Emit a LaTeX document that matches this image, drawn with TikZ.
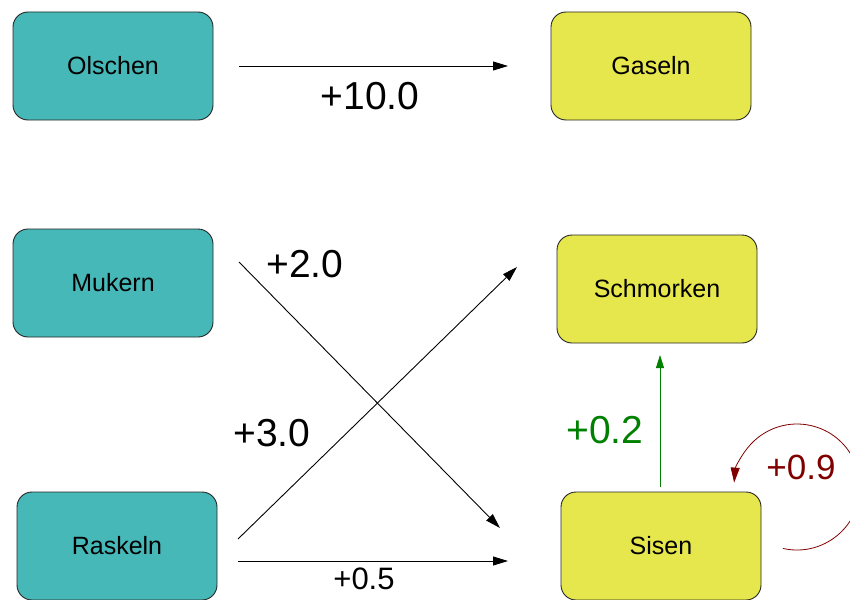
\documentclass[tikz,border=0pt]{standalone}
\usepackage{fontspec}
\setmainfont{Liberation Sans}
\usetikzlibrary{arrows.meta}
\definecolor{tealbox}{HTML}{47B8B8}
\definecolor{yellowbox}{HTML}{E6E64D}
\definecolor{dgreen}{HTML}{008000}
\definecolor{dred}{HTML}{800000}
\begin{document}
\begin{tikzpicture}[x=1pt,y=-1pt,
  box/.style={draw=black!85,line width=0.9pt,rounded corners=15pt,minimum width=200pt,minimum height=108pt,font=\fontsize{25}{29}\selectfont,inner sep=0pt},
  tbox/.style={box,fill=tealbox},
  ybox/.style={box,fill=yellowbox},
  conn/.style={line width=0.9pt,-{Triangle[length=15pt,width=9pt]}},
  biglab/.style={font=\fontsize{39}{44}\selectfont,inner sep=0pt}]
\useasboundingbox (0,0) rectangle (850,599);
\node[tbox] (ols) at (113,66) {Olschen};
\node[ybox] (gas) at (651,66) {Gaseln};
\node[tbox] (muk) at (113,283) {Mukern};
\node[ybox] (sch) at (657,289) {Schmorken};
\node[tbox] (ras) at (117,546) {Raskeln};
\node[ybox] (sis) at (661,546) {Sisen};
% endpoints
\coordinate (olsOut) at (239,66);
\coordinate (gasIn) at (508,66);
\coordinate (mukOut) at (239,262);
\coordinate (sisInA) at (500,528);
\coordinate (rasOutA) at (238,539);
\coordinate (schIn) at (517,267);
\coordinate (rasOutB) at (238,561);
\coordinate (sisInB) at (508,561);
\coordinate (sisOut) at (660,487);
\coordinate (schInB) at (660,355);
\coordinate (loopc) at (797,487);
% connectors
\draw[conn] (olsOut) -- (gasIn);
\node[biglab] (l10) at (370,96) {+10.0};
\draw[conn] (mukOut) -- (sisInA);
\node[biglab] (l20) at (305,264) {+2.0};
\draw[conn] (rasOutA) -- (schIn);
\node[biglab] (l30) at (272,433) {+3.0};
\draw[conn] (rasOutB) -- (sisInB);
\node[font=\fontsize{31}{36}\selectfont,inner sep=0pt] (l05) at (364,579) {+0.5};
\draw[conn,draw=dgreen,line width=0.8pt,-{Triangle[length=13pt,width=8pt]}] (sisOut) -- (schInB);
\node[biglab,text=dgreen] (l02) at (605,430) {+0.2};
\draw[conn,draw=dred,line width=0.8pt] ([shift={(103:63)}]loopc) arc[start angle=103,end angle=-176,radius=63];
\node[font=\fontsize{35}{40}\selectfont,inner sep=0pt,text=dred] (l09) at (801,467) {+0.9};
\end{tikzpicture}
\end{document}
